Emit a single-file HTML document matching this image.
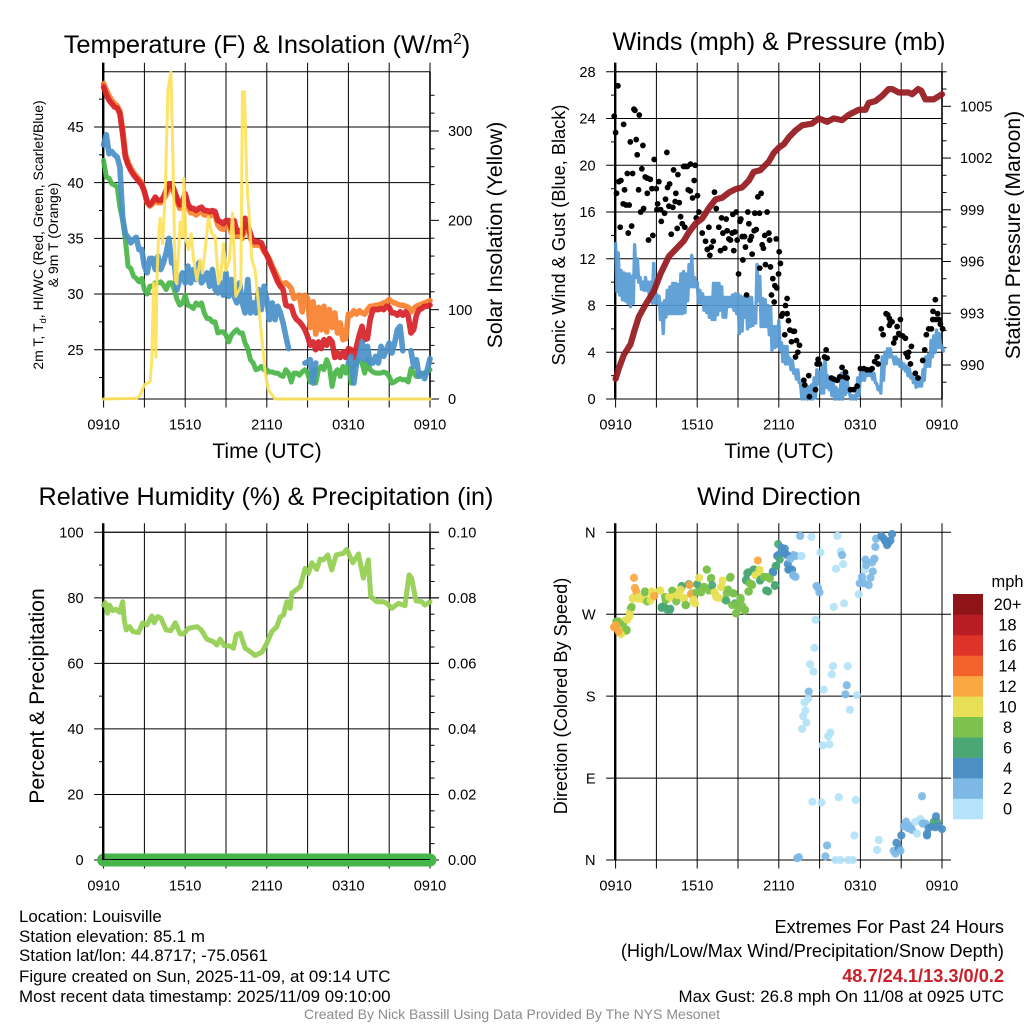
<!DOCTYPE html>
<html lang="en">
<head>
<meta charset="utf-8">
<title>Station Meteogram</title>
<style>
html,body{margin:0;padding:0;background:#fff}
svg{display:block}
text{font-family:"Liberation Sans",sans-serif;fill:#000}
</style>
</head>
<body>
<svg id="chart" xmlns="http://www.w3.org/2000/svg" width="1024" height="1024" viewBox="0 0 1024 1024">
<rect x="0" y="0" width="1024" height="1024" fill="#fff"/>
<g id="p-temp"></g>
<g id="p-wind"></g>
<g id="p-rh"></g>
<g id="p-dir"></g>

<text x="267" y="53" text-anchor="middle" font-size="25.4">Temperature (F) &amp; Insolation (W/m<tspan font-size="15.5" dy="-9">2</tspan><tspan dy="9">)</tspan></text>
<text x="779" y="50" text-anchor="middle" font-size="25.2">Winds (mph) &amp; Pressure (mb)</text>
<text x="266" y="505" text-anchor="middle" font-size="25.2">Relative Humidity (%) &amp; Precipitation (in)</text>
<text x="779" y="505" text-anchor="middle" font-size="25.2">Wind Direction</text>

<text x="267" y="458" text-anchor="middle" font-size="21.1">Time (UTC)</text>
<text x="779" y="458" text-anchor="middle" font-size="21.1">Time (UTC)</text>

<text transform="translate(43,235) rotate(-90)" text-anchor="middle" font-size="14">2m T, T<tspan font-size="9.5" dy="3">d</tspan><tspan dy="-3">, HI/WC (Red, Green, Scarlet/Blue)</tspan></text>
<text transform="translate(58,235) rotate(-90)" text-anchor="middle" font-size="14">&amp; 9m T (Orange)</text>
<text transform="translate(502,235) rotate(-90)" text-anchor="middle" font-size="21.2">Solar Insolation (Yellow)</text>
<text transform="translate(565,235) rotate(-90)" text-anchor="middle" font-size="18.2">Sonic Wind &amp; Gust (Blue, Black)</text>
<text transform="translate(1020,235) rotate(-90)" text-anchor="middle" font-size="21.2">Station Pressure (Maroon)</text>
<text transform="translate(44,696) rotate(-90)" text-anchor="middle" font-size="21.2">Percent &amp; Precipitation</text>
<text transform="translate(567,696) rotate(-90)" text-anchor="middle" font-size="18.2">Direction (Colored By Speed)</text>

<g id="legend">
<text x="1007.5" y="587" text-anchor="middle" font-size="16.4">mph</text>
</g>

<g font-size="16.9">
<text x="19" y="922">Location: Louisville</text>
<text x="19" y="942">Station elevation: 85.1 m</text>
<text x="19" y="961">Station lat/lon: 44.8717; -75.0561</text>
<text x="19" y="982">Figure created on Sun, 2025-11-09, at 09:14 UTC</text>
<text x="19" y="1002">Most recent data timestamp: 2025/11/09 09:10:00</text>
</g>
<g text-anchor="end">
<text x="1004" y="933" font-size="18.2">Extremes For Past 24 Hours</text>
<text x="1004" y="957" font-size="18.2">(High/Low/Max Wind/Precipitation/Snow Depth)</text>
<text x="1004" y="982" font-size="18.2" font-weight="bold" style="fill:#c9202a">48.7/24.1/13.3/0/0.2</text>
<text x="1004" y="1002" font-size="16.9">Max Gust: 26.8 mph On 11/08 at 0925 UTC</text>
</g>
<text x="512" y="1019" text-anchor="middle" font-size="14" style="fill:#8c8c8c">Created By Nick Bassill Using Data Provided By The NYS Mesonet</text>
</svg>

<script>
// ---- shared data ----
const timeTickHours = [0,3,6,9,12,15,18,21,24];
const timeTickLabels = ['0910','','1510','','2110','','0310','','0910'];

// Temperature panel (deg F) sampled every 0.2 h
const temperature2m = [48.6,47.9,47.4,47.1,46.8,46.7,46.2,44.4,42.3,41.6,41.1,40.7,40.4,40.1,39.8,39.2,38.3,38.0,38.3,38.7,38.4,38.4,38.7,39.3,39.9,39.9,39.3,38.6,38.0,38.3,39.0,38.1,37.7,37.7,37.5,37.7,37.8,37.5,37.5,37.4,37.5,37.4,36.6,36.5,36.3,36.6,36.6,35.9,36.6,35.6,35.7,35.4,36.8,36.2,35.4,34.7,34.7,34.7,34.6,34.0,33.5,32.9,32.3,31.7,31.1,30.7,30.4,29.0,28.9,28.9,28.1,27.7,27.5,27.2,26.8,26.2,25.4,25.7,25.0,25.7,25.1,25.9,25.4,26.0,25.7,24.3,24.7,24.3,24.8,24.3,25.1,25.0,24.2,25.3,26.3,27.1,25.9,26.0,27.7,28.6,28.6,28.6,28.7,28.6,28.9,28.8,28.3,28.3,28.1,28.4,28.1,28.4,28.0,26.5,26.8,28.1,28.6,28.7,28.9,28.9,29.0];
const temperature9m = [48.9,48.3,47.8,47.4,47.1,46.9,46.4,44.8,42.6,41.8,41.3,40.9,40.6,40.3,40,39.2,38.2,37.9,38.1,38.5,38.2,38.2,38.5,38.9,39.5,39.6,39,38.3,37.7,37.9,38.6,37.8,37.3,37.3,37.1,37.3,37.4,37.1,37.1,37,37.1,37,36.2,35.9,35.8,36.1,36.1,35.5,35.9,35.2,35.3,35,36.2,35.8,35,34.4,34.4,34.4,34.3,33.8,33.5,33.1,32.5,32,31.5,31,30.9,31,30.8,30.5,29.6,29.8,29.9,28.4,29.9,29.6,27,29.3,26.4,28.8,26.8,28.9,26.6,28.6,27,28.3,26.5,27.4,25.9,26,28.2,28.1,28.5,28.2,28.5,28.3,28.2,28.6,28.9,28.9,29,29,29.1,29.2,29.3,29.5,29.3,29.2,29.1,29,29,28.9,28.8,28.4,28.7,28.9,29,29.1,29.2,29.3,29.4];
const windChill = [43.4,44.3,42.6,42.8,42.5,42.3,41.4,36.9,35.4,35.1,34.6,34.9,35.1,34,34,32.5,31.9,33.2,33.2,32.2,33.4,32.2,32.8,33.7,35,32.8,32.8,30.4,31.3,31.9,31,32.5,31,32.2,31.3,32.8,31,31.3,31.9,30.7,32.2,30.4,30.1,31,29.9,31.9,29.8,31.3,29.8,29.2,31,29.2,28.3,31.3,28.3,29.2,28.3,30.4,28.6,30.7,29.5,27.7,29.2,27.7,28.9,28.3,27.4,26.2,25.1,null,null,null,null,null,23.8,23.9,24.1,22,23.8,null,null,null,null,null,null,null,null,null,null,null,23.8,24.4,22,23.8,24.4,25.7,24.1,25.3,23.8,23.8,24.4,23.8,25.3,24.4,25,25.6,24.7,25.6,26.8,27.1,24.9,null,null,24.9,23.5,24.1,22.6,22.8,22.4,23.2,24.2];
const dewPoint = [42,40.5,40.4,39.9,39.8,39.6,37.8,36.6,34.9,32.5,32.3,31.6,31.4,31.1,31.4,30.4,30,30.7,30.7,31,31,31.1,30.8,30.4,31,31,30.4,29.5,29,29.2,29.9,29,28.9,28.7,29.2,29,29.2,28.3,27.8,27.8,27.5,27.5,26.5,26.6,26.6,26.3,25.7,26.3,26.6,26.8,26.5,26.5,25.6,25.1,24.1,23.8,23.2,23.3,23.5,23.2,23.2,23,23,22.9,22.9,22.7,22.6,23.2,22.9,22.1,22.9,22.9,22.7,23,23.2,22.9,22.1,23.2,22,23.2,23.5,23.2,24.1,23.5,21.7,22.9,23.2,22.6,23.5,22.9,23.8,22,23.5,23.9,24.1,23.8,22.9,24.1,23.2,23,22.9,22.9,22.9,23,22.9,22.6,22,22.1,22.3,22.4,22.3,22.3,22.1,23.3,22.9,22.6,22.7,22.9,22.9,23,23.2];
const solarHours = [0,2.45,2.69,2.99,3.43,3.55,3.67,3.75,3.85,3.92,4.04,4.16,4.34,4.53,4.73,4.95,5.09,5.27,5.39,5.63,5.8,5.9,6.05,6.25,6.44,6.61,6.86,7.1,7.27,7.47,7.71,7.96,8.2,8.45,8.62,8.82,8.99,9.26,9.48,9.72,10.09,10.21,10.36,10.53,10.9,11.14,11.51,11.88,12.12,12.61,24];
const solarValues = [0,0.7,4.5,15.7,19.4,47,129.5,88,47,133,182,202,174,230,346,366,275,133,129,198,182,247,178,167,185,156,133,156,141,167,204,185,182,129,137,174,144,156,208,115,126,344,344,245,156,144,88,29,10,0,0];
const tempTicks = [25,30,35,40,45];
const tempMinorTicks = [22.5,27.5,32.5,37.5,42.5,47.5];
const solarTicks = [0,100,200,300];
const solarMinorTicks = [20,40,60,80,120,140,160,180,220,240,260,280,320,340];

// Winds panel (mph): sonic wind oscillates between these bounds, one pair every 0.2 h
const sonicWindHigh = [13.3,12.5,11,10.8,10.7,10.7,10.5,13.2,12,10.4,10,10.4,10,10,11.6,9,8.8,8.2,8.4,9.3,9.6,9.9,9.9,9.8,10.7,10.9,10.7,11.5,12.3,10.4,10,9.3,9,8.7,8.7,8.7,9.9,9.9,9.9,9.6,8.7,8.7,8.7,8.9,9,9,8.8,8.7,8.5,8.7,8.7,7.9,11.5,10.5,8.6,8.5,8,7.9,6.2,6.2,6.7,4.8,4.5,4.5,3.5,3.3,2.5,2.5,1.3,1.05,1.05,1.05,1.2,1.8,2.5,2.3,2.8,3.6,2,1.6,1.5,1,0.8,2.2,2.2,2.2,0.5,0.3,0.3,1.8,2.2,2.3,2.4,2.5,2.4,2.2,1.3,1.05,3.6,4,4.3,4.3,3.6,3.6,3.4,3.2,3,2.8,2.6,2.1,1.8,1.6,1.5,2.5,3.6,3.8,5,5.4,5.9,5.6,4.5];
const sonicWindLow = [9.2,8.9,8.5,8.4,8.2,7.9,8.2,10.4,10,9.4,9.3,9.3,8.6,8.2,8.2,8.2,6.8,5.6,7,7.3,7.3,7.3,7.3,7.3,7.3,7.4,8.4,9.6,9.6,9.6,8.2,8.2,7.6,7.4,7,6.8,6.8,7.2,7.6,7,7,7.9,7.9,7.6,7.3,5.6,5.8,7,6,6.2,6.3,6.5,8.4,6.2,6.2,6.2,5.5,4.2,4.4,4.5,4.2,3.2,3,3,2.5,2.2,1.7,1.4,0,0,0,0,0,0.1,1.3,0.5,0.5,1,0.8,0.3,0,0,0,0,0.4,0.6,0,0,0,0.3,1.6,1.6,2,2,1.7,1.4,0.8,0.5,1.6,3,3.6,3.6,3,3,2.8,2.6,2.4,2,1.8,1.4,1,1.1,1.1,1.6,2.8,2.8,3.6,4,4.4,4.4,4.1];
const gustHours = [-0.1,0,.17,.07,.24,.39,.34,.56,.66,.59,.86,.78,1,.93,1.08,1.18,1.25,1.35,1.42,1.52,1.59,1.69,1.74,1.84,1.93,2.01,2.06,2.18,2.33,2.33,2.42,2.55,2.67,2.74,2.84,2.99,3.09,3.04,3.18,3.31,3.36,3.6,3.67,3.77,3.82,3.97,3.92,4.09,4.21,4.26,4.38,4.43,4.58,4.53,4.68,4.78,4.9,5,5.09,5.14,5.27,5.34,5.49,5.51,5.66,5.78,5.85,6.02,5.93,6.12,6.37,6.61,6.74,6.86,6.93,7.03,7.18,7.27,7.4,7.59,7.71,7.79,7.89,8.03,8.13,8.2,8.33,8.45,8.57,8.69,8.62,8.87,8.94,8.77,9.04,9.14,9.21,9.31,9.36,9.48,9.55,9.63,9.72,9.8,9.89,9.99,10.04,10.19,10.34,10.24,10.46,10.58,10.6,10.7,10.78,10.87,11.02,10.97,11.14,11.27,11.32,11.39,11.46,11.56,11.66,11.71,11.81,11.85,11.98,12.03,12.12,12.2,12.29,12.44,12.49,12.61,12.61,12.71,12.81,12.93,13.05,13.15,13.23,13.3,13.4,13.52,13.84,13.91,14.2,14.25,14.7,14.82,14.89,14.99,15.36,15.48,15.55,15.87,16.04,16.29,16.48,16.65,16.83,16.9,17.02,17.27,17.51,17.76,18,18.25,18.49,18.74,18.86,19.05,19.23,19.3,19.54,19.67,19.89,20.01,20.13,20.21,20.13,20.33,20.45,20.57,20.7,20.82,20.94,20.89,21.11,21.31,21.36,21.55,21.75,21.48,21.68,22.04,22.24,22.58,22.73,22.85,23.02,23.22,23.32,23.34,23.51,23.56,23.68,23.78,23.88,24.05];
const gustValues = [24.2,22.8,26.8,17.6,18.6,18.7,14.7,16.7,17.9,23.5,19.3,16.6,16.6,14.2,22,14.8,19.3,24.8,24.7,22.2,20.9,17.9,24.3,16,19.7,21.7,16.3,19,18.9,17.6,13.6,18.8,18,14,20.5,18,16.7,16.2,18.6,16.2,15.2,15.9,17.1,21.1,18.1,18.4,16.5,14.1,16.4,19.6,16.9,17.6,19.2,14.6,16.8,15.6,15,19.9,14.7,19.9,19.9,17.9,17.8,20.1,17.2,18.7,20,17.4,15.5,16,14.2,13.5,12.8,14.7,12.3,13,13.5,17.7,16.3,14.7,12.7,15.5,14.2,12.9,15.4,14.4,13.7,13.6,14.2,12.7,15.8,16,13.6,14.3,10.7,15.2,15.4,13.9,11.9,13.9,13,8.9,16,15,13.6,13.9,12.4,14.4,14.5,15.9,17.3,15.9,11.2,17.6,13.2,12.9,11.5,14,16,14.2,13.6,11.3,8.9,10.3,8.3,9.7,13.7,9.5,10.7,12.6,11.6,7.1,7.3,5.5,8,8.6,7.3,6.7,5.9,4.9,5.8,5.8,3.6,5,4,4.6,1.6,1.2,2,0.2,0.8,3,3.4,3,3.6,4.2,3.5,1.8,1.7,1.6,1.9,2.7,1.9,2.3,1.8,0.8,0.8,1.1,2.6,2.6,2.5,2.5,2.6,3.2,3.6,3,6,5.5,7.3,7.2,6.9,6.6,6.3,6.6,4.8,5.2,6.2,5.6,6.8,5.5,5.4,5.2,3.9,4,4.5,3.6,3,2.2,1.8,3.3,4.2,5.5,6,6,6.8,7.5,8.5,6.8,7.3,6.8,6.4,6];
const pressureHours = [0,.24,.61,1.1,1.35,1.71,2.2,2.82,3.31,3.92,4.41,5.02,5.39,5.88,6.37,6.86,7.35,7.84,8.33,8.82,9.31,9.8,10.16,10.65,11.27,11.63,12,12.37,12.74,13.23,13.72,14.45,14.94,15.55,16.04,16.65,17.14,17.88,18.37,18.61,19.1,19.59,20.08,20.33,20.82,21.55,21.8,22.24,22.48,22.78,23.39,24];
const pressureValues = [989.2,989.8,990.6,991.2,991.9,992.8,993.5,994.3,995.3,996.3,996.7,997.2,997.7,998.2,998.5,999.1,999.6,999.7,1000,1000.2,1000.3,1000.7,1001.2,1001.3,1001.8,1002.3,1002.6,1002.8,1003.2,1003.6,1003.9,1004,1004.3,1004.1,1004.3,1004.2,1004.5,1004.8,1004.8,1005.2,1005.3,1005.6,1006,1006,1005.8,1005.8,1005.7,1006,1005.9,1005.4,1005.4,1005.7];
const windTicks = [0,4,8,12,16,20,24,28];
const windMinorTicks = [2,6,10,14,18,22,26];
const pressureTicks = [990,993,996,999,1002,1005];
const pressureMinorTicks = [989,991,992,994,995,997,998,1000,1001,1003,1004,1006,1007];

// Humidity panel
const humidityHours = [0,.12,.29,.44,.66,.91,1.18,1.4,1.52,1.67,1.91,2.16,2.57,2.87,3.18,3.55,3.72,3.97,4.21,4.6,4.95,5.27,5.63,5.88,6.25,6.86,7.18,7.59,8.08,8.33,8.57,8.87,9.31,9.55,9.75,10.04,10.41,10.78,11.14,11.63,12,12.37,12.74,12.98,13.23,13.47,13.72,13.84,14.45,14.82,15.06,15.31,15.67,15.92,16.16,16.48,16.78,17.1,17.63,17.88,18.32,18.74,19.1,19.47,19.64,20.08,20.57,20.82,21.19,21.68,22.16,22.46,22.65,22.97,23.39,23.63,24];
const humidityValues = [77.8,78.5,75.3,77.8,76.1,76.5,75.6,78.8,73.2,70.2,71.2,69.7,69.4,72.4,71.7,74.5,72.4,74.3,73.8,70.2,70,72.4,69,69,70.7,71.2,70.2,67.4,66.6,65.6,67.4,65.4,65.3,64.6,68.7,69.2,64.6,63.6,62.4,63.4,66.1,69.7,71.2,74.1,74.8,78.8,76.8,81.4,83.4,89,87.5,90.7,88.7,91.8,91.6,93.1,88.5,93.1,93.6,94.8,90.7,93.4,86,91.6,80.4,78.8,78.8,78.3,76.8,78.3,77.6,87,86,79.1,78.8,77.8,78.8];
const precipHours = [0,24];
const precipValues = [0,0];
const humidityTicks = [0,20,40,60,80,100];
const humidityMinorTicks = [10,30,50,70,90];
const precipTicks = [0,0.02,0.04,0.06,0.08,0.10];
const precipMinorTicks = [0.005,0.01,0.015,0.025,0.03,0.035,0.045,0.05,0.055,0.065,0.07,0.075,0.085,0.09,0.095];

// Direction panel: hour, degrees from north, speed in mph
const directionHours = [.2,.81,.45,.69,1.11,1.06,1.26,1.67,2.04,2.4,2.16,2.65,3.26,3.76,3.39,4,3.63,4.24,3.95,4.49,4.74,5.18,4.86,5.03,5.71,5.6,6.2,6.52,6.7,7.01,7.07,7.38,7.43,7.8,8.41,8.17,8.04,8.65,8.78,9.2,9.02,9.51,8.85,9.68,10.13,9.59,10,10.57,10.32,10.62,10.99,11.35,11.11,9.76,11.72,11.6,11.77,12.46,11.96,12.7,13.12,13.07,13.61,.05,.29,.54,.81,.39,.2,-.12,.02,0,.22,.86,1.03,1.18,1.27,1.35,1.42,1.52,1.71,2.01,2.16,2.33,2.57,2.69,2.84,3.28,3.38,3.55,3.67,3.8,4.02,3.92,4.16,4.24,4.46,4.53,4.85,4.78,5.02,5.14,5.39,5.44,5.54,5.76,5.83,6,5.95,6.15,6.29,6.49,6.71,6.86,7.03,7.1,7.27,7.4,7.59,7.76,7.86,8.13,8.28,8.45,8.57,8.69,8.87,8.94,9.18,9.31,9.5,9.6,9.75,9.85,10.04,10.21,9.8,10.29,10.46,10.58,10.65,10.9,11.07,11.22,11.27,11.71,11.56,11.81,11.95,11.88,12.07,12.2,12.44,12.37,12.61,12.66,12.81,12.98,12.86,13.23,13.05,13.23,13.67,13.57,14.4,15.06,16.31,16.56,16.65,16.21,16.73,14.77,14.89,14.99,16.04,16.8,14.7,14.62,14.3,14.55,15.99,15.9,17.07,17,14.2,15.31,16.9,17.73,14.16,13.89,13.96,17.22,13.79,14.03,13.72,15.8,15.63,15.23,15.72,14.47,15.14,16.41,17.66,17.56,15.55,15.43,13.35,13.47,16.16,16.53,17.1,17.44,17.88,17.95,18.12,18.25,18.37,18.32,18.42,18.61,18.74,18.86,19.03,18.91,19.1,19.15,19.54,19.72,19.84,19.96,20.21,20.33,20.03,19.35,19.23,20.45,20.57,20.65,20.82,20.94,21.01,21.19,21.36,21.5,21.68,21.8,22.16,22.04,22.41,22.53,22.58,22.78,22.9,23.02,23.27,23.39,23.63,23.56,23.76,24,23.51,22.9];
const directionDegrees = [262,253,249,263,276,272,287,287,286,286,295,295,296,286,278,275,289,295,288,289,296,280,301,287,284,293,295,300,319,309,297,291,289,300,310,293,286,293,282,286,276,275,271,315,319,307,303,318,313,307,311,309,296,295,302,316,323,337,335,319,312,335,334,262,260,258,252,248,253,256,258,255,251,264,268,278,288,310,299,295,289,287,294,284,285,294,290,296,277,279,286,275,276,289,296,289,284,291,300,297,288,280,303,302,292,286,282,303,294,310,294,300,319,296,310,302,294,289,288,300,307,285,297,311,280,293,271,281,288,279,274,308,316,304,302,319,295,313,329,319,308,311,296,295,311,301,317,323,347,334,330,343,342,337,335,325,319,319,331,334,313,311,334,356,355,338,356,339,335,320,325,301,299,294,278,282,264,233,215,207,213,204,213,192,185,187,182,181,177,173,164,165,158,151,144,140,136,126,127,64,63,69,66,27,16,4,2,3,0,0,0,0,292,304,311,304,330,319,324,302,310,327,331,317,344,353,356,353,350,346,351,358,348,22,11,10,7,19,13,10,27,37,42,35,37,33,29,42,45,70,40,40,27,35,37,42,42,48,37,34,36,29];
const directionSpeeds = [9,9,11,11,9,11,11,11,11,11,9,11,11,11,7,7,9,9,11,11,11,9,7,11,11,9,9,9,9,9,9,11,11,11,9,9,9,9,7,9,9,9,9,7,7,7,9,11,11,7,9,9,7,9,7,5,7,5,5,5,3,3,1,9,9,9,9,11,11,13,13,13,13,11,11,9,11,13,13,13,11,11,9,9,11,11,13,11,7,7,9,7,7,11,9,11,9,11,7,11,11,9,7,13,13,11,11,7,9,11,9,9,9,9,9,7,11,11,11,11,11,7,9,9,9,9,9,9,9,9,9,7,7,9,9,7,9,11,13,11,7,9,7,7,9,7,5,7,7,5,7,5,5,5,5,5,5,5,3,3,3,3,1,3,1,1,1,1,3,1,1,3,3,3,1,1,1,1,1,1,1,1,1,3,3,1,3,1,1,1,1,1,1,1,1,1,1,1,1,1,1,1,1,1,3,3,3,3,1,1,1,1,1,3,3,3,3,1,3,3,3,3,3,3,3,3,5,5,5,5,5,5,5,1,1,3,3,5,5,3,5,3,3,3,3,3,1,1,1,3,3,3,5,5,5,7,7,5,5,5,5,5];
const directionTickDegrees = [0,90,180,270,360];
const directionTickLabels = ['N','E','S','W','N'];

// Legend
const legendLabels = ['0','2','4','6','8','10','12','14','16','18','20+'];
const legendColors = ['#b5e3f9','#7eb9e6','#4b8fc5','#4ba875','#7cc24c','#e7e056','#f9a842','#f2622a','#dd3328','#b81c24','#8f1418'];

// ---- drawing helpers ----
const NS = 'http://www.w3.org/2000/svg';
function make(parent, tag, attrs) {
  const el = document.createElementNS(NS, tag);
  for (const k in attrs) el.setAttribute(k, attrs[k]);
  parent.appendChild(el);
  return el;
}
function scale(d0, d1, r0, r1) {
  return v => r0 + (v - d0) * (r1 - r0) / (d1 - d0);
}
function linePath(xs, ys, xf, yf) {
  let d = '', pen = false;
  for (let i = 0; i < ys.length; i++) {
    if (ys[i] === null) { pen = false; continue; }
    d += (pen ? 'L' : 'M') + xf(xs[i]).toFixed(2) + ' ' + yf(ys[i]).toFixed(2);
    pen = true;
  }
  return d;
}
function stepHours(values) {
  return values.map((_, i) => i * 24 / (values.length - 1));
}
function drawLine(g, name, xs, ys, xf, yf, color, width, cap) {
  const el = make(g, 'path', {d: linePath(xs, ys, xf, yf), fill: 'none', stroke: color, 'stroke-opacity': 0.93, 'stroke-width': width, 'stroke-linejoin': 'round', 'stroke-linecap': cap || 'round'});
  
  
  return el;
}
function seg(g, name, x1, y1, x2, y2, w, color) {
  const el = make(g, 'line', {x1: x1, y1: y1, x2: x2, y2: y2, stroke: color || '#000', 'stroke-width': w || 1});
  
  
  return el;
}
function label(g, name, x, y, anchor, str, size) {
  const el = make(g, 'text', {x: x, y: y, 'text-anchor': anchor, 'font-size': size || 14.6});
  el.textContent = str;
  
  
  return el;
}
function frame(g, box, xf, spec) {
  timeTickHours.forEach((h, i) => {
    seg(g, 'x-gridline', xf(h), box.top - 9, xf(h), box.bottom + 8.5);
    if (timeTickLabels[i]) label(g, 'x-tick-label', xf(h), box.bottom + 30.5, 'middle', timeTickLabels[i]);
  });
  spec.leftTicks.forEach((v, i) => {
    const y = spec.leftScale(v);
    seg(g, 'y-gridline', box.left - 9.5, y, spec.fullWidth ? box.right + 9 : box.right, y);
    label(g, 'left-tick-label', box.left - 20, y + 5.2, 'end', spec.leftLabels ? spec.leftLabels[i] : String(v));
  });
  (spec.leftMinor || []).forEach(v => {
    const y = spec.leftScale(v);
    seg(g, 'left-minor-tick', box.left - 4.5, y, box.left, y);
  });
  (spec.rightTicks || []).forEach(v => {
    const y = spec.rightScale(v);
    seg(g, 'right-major-tick', box.right, y, box.right + 9, y);
    label(g, 'right-tick-label', box.right + 18, y + 5.2, 'start', spec.rightFormat ? spec.rightFormat(v) : String(v));
  });
  (spec.rightMinor || []).forEach(v => {
    const y = spec.rightScale(v);
    seg(g, 'right-minor-tick', box.right, y, box.right + 4.5, y);
  });
  seg(g, 'plot-top-border', box.left, box.top, box.right, box.top);
  seg(g, 'plot-bottom-border', box.left, box.bottom, box.right, box.bottom);
  seg(g, 'left-axis-line', box.left - 0.4, box.top - 9, box.left - 0.4, box.bottom + 0.5, 2.4);
  seg(g, 'right-axis-line', box.right, box.top, box.right, box.bottom + 0.5, 1.6);
}

// ---- panel geometry ----
const topBox = {top: 71.8, bottom: 399};
const lowBox = {top: 532.3, bottom: 860};
const leftX = {left: 103.6, right: 430};
const rightX = {left: 615.6, right: 942};
const xLeft = scale(0, 24, leftX.left, leftX.right);
const xRight = scale(0, 24, rightX.left, rightX.right);

// ---- temperature ----
(function () {
  const g = document.getElementById('p-temp');
  const box = Object.assign({}, topBox, leftX);
  const yT = scale(25, 45, 349.7, 127);
  const yS = scale(0, 300, 399, 131);
  frame(g, box, xLeft, {leftTicks: tempTicks, leftMinor: tempMinorTicks, leftScale: yT, rightTicks: solarTicks, rightMinor: solarMinorTicks, rightScale: yS});
  const hrs = stepHours(temperature2m);
  drawLine(g, 'orange-9m-temperature-line', hrs, temperature9m, xLeft, yT, '#f8812f', 5.6);
  drawLine(g, 'red-2m-temperature-line', hrs, temperature2m, xLeft, yT, '#d6222a', 5.6);
  drawLine(g, 'green-dewpoint-line', hrs, dewPoint, xLeft, yT, '#49b548', 5);
  drawLine(g, 'blue-wind-chill-line', hrs, windChill, xLeft, yT, '#4a90c9', 5.6);
  drawLine(g, 'yellow-solar-line', solarHours, solarValues, xLeft, yS, '#fde25b', 3);
})();

// ---- winds ----
(function () {
  const g = document.getElementById('p-wind');
  const box = Object.assign({}, topBox, rightX);
  const yW = scale(0, 28, 399, 71.8);
  const yP = scale(990, 1005, 365, 106.3);
  frame(g, box, xRight, {leftTicks: windTicks, leftMinor: windMinorTicks, leftScale: yW, rightTicks: pressureTicks, rightMinor: pressureMinorTicks, rightScale: yP});
  const step = 24 / (sonicWindHigh.length - 1);
  const windX = [], windY = [];
  sonicWindHigh.forEach((hi, i) => {
    windX.push(i * step, i * step + step / 2);
    windY.push(hi, sonicWindLow[i]);
  });
  drawLine(g, 'blue-sonic-wind-line', windX, windY, xRight, yW, '#579bd4', 3.4);
  gustHours.forEach((h, i) => {
    const dot = make(g, 'circle', {cx: xRight(h), cy: yW(gustValues[i]), r: 2.9, fill: '#000'});
    
    
  });
  drawLine(g, 'maroon-pressure-line', pressureHours, pressureValues, xRight, yP, '#951a1e', 6.2);
})();

// ---- humidity ----
(function () {
  const g = document.getElementById('p-rh');
  const box = Object.assign({}, lowBox, leftX);
  const yH = scale(0, 100, 860, 532.3);
  const yR = scale(0, 0.1, 860, 532.3);
  frame(g, box, xLeft, {fullWidth: true, leftTicks: humidityTicks, leftMinor: humidityMinorTicks, leftScale: yH, rightTicks: precipTicks, rightMinor: precipMinorTicks, rightScale: yR, rightFormat: v => v.toFixed(2)});
  drawLine(g, 'humidity-line', humidityHours, humidityValues, xLeft, yH, '#93cf52', 5);
  const band = drawLine(g, 'precipitation-line', precipHours, precipValues, xLeft, yR, '#46b64a', 13);
  band.setAttribute('stroke-opacity', '1');
  seg(g, 'plot-bottom-border', box.left, box.bottom - 0.5, box.right, box.bottom - 0.5);
  seg(g, 'left-axis-segment', box.left - 0.4, box.bottom - 6.5, box.left - 0.4, box.bottom, 2.4);
})();

// ---- direction ----
(function () {
  const g = document.getElementById('p-dir');
  const box = Object.assign({}, lowBox, rightX);
  const yD = scale(0, 360, 860, 532.3);
  directionTickDegrees.forEach(d => {
    seg(g, 'direction-gridline', box.left - 9.5, yD(d), box.right + 9, yD(d));
  });
  directionTickDegrees.forEach((d, i) => {
    label(g, 'direction-tick-label', box.left - 20, yD(d) + 5.2, 'end', directionTickLabels[i]);
  });
  timeTickHours.forEach((h, i) => {
    seg(g, 'x-gridline', xRight(h), box.top - 9, xRight(h), box.bottom + 8.5);
    if (timeTickLabels[i]) label(g, 'x-tick-label', xRight(h), box.bottom + 30.5, 'middle', timeTickLabels[i]);
  });
  seg(g, 'left-axis-line', box.left - 0.4, box.top - 9, box.left - 0.4, box.bottom + 0.5, 2.4);
  directionHours.forEach((h, i) => {
    const idx = Math.min(legendColors.length - 1, Math.floor(directionSpeeds[i] / 2));
    const dot = make(g, 'circle', {cx: xRight(h), cy: yD(directionDegrees[i]), r: 4.1, fill: legendColors[idx], 'fill-opacity': 0.93});
    
    
  });
})();

// ---- legend ----
(function () {
  const g = document.getElementById('legend');
  const top = 594, bottom = 819, left = 953, right = 983;
  const h = (bottom - top) / legendColors.length;
  legendColors.forEach((c, i) => {
    const y = bottom - (i + 1) * h;
    const box = make(g, 'rect', {x: left, y: y, width: right - left, height: h + 0.3, fill: c});
    
    
    label(g, 'legend-label', 1007.5, y + h / 2 + 5.9, 'middle', legendLabels[i], 16.4);
  });
})();
</script>
</body>
</html>
